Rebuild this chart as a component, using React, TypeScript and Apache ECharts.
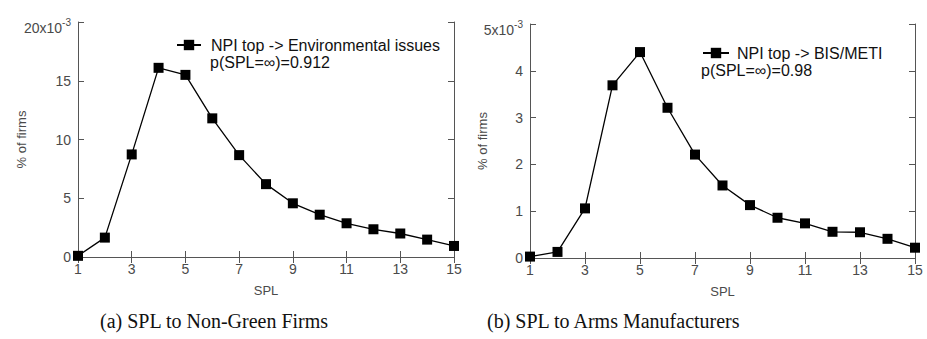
import React, { useEffect, useRef } from "react";
import * as echarts from "echarts";

const spl = [1, 2, 3, 4, 5, 6, 7, 8, 9, 10, 11, 12, 13, 14, 15];
const xTickValues = [1, 3, 5, 7, 9, 11, 13, 15];
const envIssues = [0.1, 1.65, 8.73, 16.1, 15.5, 11.8, 8.67, 6.2, 4.57, 3.6, 2.87, 2.36, 2.0, 1.48, 0.94];
const bisMeti = [0.03, 0.13, 1.06, 3.69, 4.4, 3.21, 2.21, 1.55, 1.13, 0.86, 0.74, 0.56, 0.55, 0.41, 0.22];
const seriesNames = ["NPI top -> Environmental issues", "NPI top -> BIS/METI"];
const pNotes = ["p(SPL=\u221E)=0.912", "p(SPL=\u221E)=0.98"];
const captions = ["(a) SPL to Non-Green Firms", "(b) SPL to Arms Manufacturers"];

const SANS = "Liberation Sans, Arial, sans-serif";
const AX = "#555";
const LBL = "#4a4a4a";

export default function App() {
  const ref = useRef<HTMLDivElement>(null);
  useEffect(() => {
    if (!ref.current) return;
    const chart = echarts.init(ref.current, undefined, { renderer: "svg" });
    const grids = [
      { left: 78, top: 22, width: 376, height: 235 },
      { left: 530, top: 24, width: 385, height: 234 },
    ];
    const yMax = [20, 5];
    const yInt = [5, 1];
    const xAxes: any[] = [];
    const yAxes: any[] = [];
    [0, 1].forEach((g) => {
      xAxes.push({
        type: "value",
        gridIndex: g,
        min: 1,
        max: 15,
        position: "bottom",
        axisLine: { show: true, lineStyle: { color: AX, width: 1 } },
        axisTick: { show: true, inside: true, length: 6, customValues: xTickValues, lineStyle: { color: AX } },
        axisLabel: { customValues: xTickValues, color: LBL, fontFamily: SANS, fontSize: 14, margin: 5 },
        splitLine: { show: false },
        name: "SPL",
        nameLocation: "middle",
        nameGap: 27,
        nameMoveOverlap: false,
        nameTextStyle: { color: LBL, fontFamily: SANS, fontSize: 13 },
      });
      xAxes.push({
        type: "value",
        gridIndex: g,
        min: 1,
        max: 15,
        position: "top",
        axisLine: { show: true, lineStyle: { color: AX, width: 1 } },
        axisTick: { show: true, inside: true, length: 6, customValues: xTickValues, lineStyle: { color: AX } },
        axisLabel: { show: false },
        splitLine: { show: false },
      });
      const top = yMax[g];
      yAxes.push({
        type: "value",
        gridIndex: g,
        min: 0,
        max: top,
        interval: yInt[g],
        position: "left",
        axisLine: { show: true, lineStyle: { color: AX, width: 1 } },
        axisTick: { show: true, inside: true, length: 6, lineStyle: { color: AX } },
        axisLabel: {
          color: LBL,
          fontFamily: SANS,
          fontSize: 14,
          margin: 7,
          formatter: (v: number) => (v === top ? `{b|${top}x10}{s|-3}` : String(v)),
          rich: {
            b: { color: LBL, fontFamily: SANS, fontSize: 14, verticalAlign: "bottom", padding: [0, 0, -8, 0] },
            s: { color: LBL, fontFamily: SANS, fontSize: 10, verticalAlign: "top" },
          },
        },
        splitLine: { show: false },
        name: "% of firms",
        nameLocation: "middle",
        nameRotate: 90,
        nameGap: g === 0 ? 50 : 41,
        nameMoveOverlap: false,
        nameTextStyle: { color: LBL, fontFamily: SANS, fontSize: 13 },
      });
      yAxes.push({
        type: "value",
        gridIndex: g,
        min: 0,
        max: top,
        interval: yInt[g],
        position: "right",
        axisLine: { show: true, lineStyle: { color: AX, width: 1 } },
        axisTick: { show: true, inside: true, length: 6, lineStyle: { color: AX } },
        axisLabel: { show: false },
        splitLine: { show: false },
      });
    });
    const datasets = [envIssues, bisMeti];
    chart.setOption({
      animation: false,
      backgroundColor: "#fff",
      grid: grids,
      xAxis: xAxes,
      yAxis: yAxes,
      legend: [
        {
          data: [seriesNames[0]],
          left: 176,
          top: 37,
          padding: 0,
          itemWidth: 24,
          itemHeight: 13,
          textStyle: { color: "#111", fontFamily: SANS, fontSize: 16, padding: [0, 0, 0, 5] },
        },
        {
          data: [seriesNames[1]],
          left: 702,
          top: 45,
          padding: 0,
          itemWidth: 26,
          itemHeight: 13,
          textStyle: { color: "#111", fontFamily: SANS, fontSize: 16, padding: [0, 0, 0, 3] },
        },
      ],
      series: [0, 1].map((g) => ({
        name: seriesNames[g],
        type: "line",
        xAxisIndex: g * 2,
        yAxisIndex: g * 2,
        data: spl.map((x, i) => [x, datasets[g][i]]),
        symbol: "rect",
        symbolSize: 10,
        clip: false,
        lineStyle: { color: "#000", width: 1.3 },
        itemStyle: { color: "#000" },
      })),
      graphic: [
        { type: "text", left: 210, top: 54, style: { text: pNotes[0], font: `16px ${SANS}`, fill: "#111" } },
        { type: "text", left: 701, top: 62, style: { text: pNotes[1], font: `16px ${SANS}`, fill: "#111" } },
        { type: "text", left: 100, top: 311, style: { text: captions[0], font: `20px "Liberation Serif", serif`, fill: "#111" } },
        { type: "text", left: 487, top: 311, style: { text: captions[1], font: `20px "Liberation Serif", serif`, fill: "#111" } },
      ],
    });
    return () => chart.dispose();
  }, []);
  return (
    <div
      ref={ref}
      style={{ position: "fixed", left: 0, top: 0, width: 927, height: 339, background: "#fff" }}
    />
  );
}
